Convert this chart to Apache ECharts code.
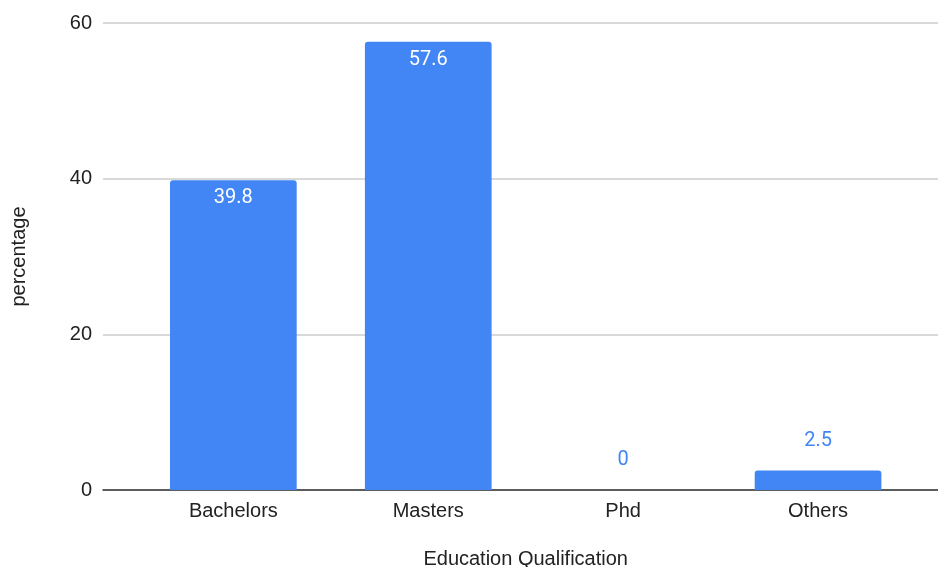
<!DOCTYPE html>
<html>
<head>
<meta charset="utf-8">
<script src="https://cdn.jsdelivr.net/npm/echarts@6/dist/echarts.min.js"></script>
<style>
  html, body { margin: 0; padding: 0; background: #fff; }
  #chart { width: 938px; height: 567px; }
</style>
</head>
<body>
<div id="chart"></div>
<script>
// Share of respondents by education qualification (percent)
const categories = ['Bachelors', 'Masters', 'Phd', 'Others'];
const percentages = [39.8, 57.6, 0, 2.5];
const yTicks = { min: 0, max: 60, interval: 20 };

const BLUE = '#4285F4';
const AXIS_FONT = 'Arial, "Liberation Sans", sans-serif';
const LABEL_FONT = 'Roboto, Arial, sans-serif';

// Tall bars carry their value inside in white; short ones get it above in blue.
const barData = percentages.map(v => ({
  value: v,
  label: v >= 10
    ? { position: 'insideTop', distance: 8, color: '#ffffff' }
    : { position: 'top', distance: 20, color: BLUE }
}));

const chart = echarts.init(document.getElementById('chart'));
chart.setOption({
  animation: false,
  backgroundColor: '#ffffff',
  grid: [
    // frame with gridlines and baseline
    { left: 103, right: 0, top: 23, bottom: 77, outerBoundsMode: 'none', containLabel: false },
    // inset band where the bars sit
    { left: 135.9, right: 22.5, top: 23, bottom: 77, outerBoundsMode: 'none', containLabel: false }
  ],
  xAxis: [
    {
      gridIndex: 0, type: 'value', min: 0, max: 1,
      axisLine: { show: true, onZero: true, lineStyle: { color: '#333333', width: 1.5 } },
      axisTick: { show: false }, axisLabel: { show: false }, splitLine: { show: false }
    },
    {
      gridIndex: 1, type: 'category', data: categories,
      axisLine: { show: false }, axisTick: { show: false },
      axisLabel: { color: '#222222', fontSize: 20, fontFamily: AXIS_FONT, margin: 11 },
      name: 'Education Qualification', nameLocation: 'middle', nameGap: 59,
      nameTextStyle: { color: '#222222', fontSize: 20, fontFamily: AXIS_FONT }
    }
  ],
  yAxis: [
    {
      gridIndex: 0, type: 'value', min: yTicks.min, max: yTicks.max, interval: yTicks.interval,
      axisLine: { show: false }, axisTick: { show: false },
      axisLabel: { color: '#222222', fontSize: 20, fontFamily: AXIS_FONT, margin: 11 },
      splitLine: { lineStyle: { color: '#cccccc', width: 1.5 } },
      name: 'percentage', nameLocation: 'middle', nameRotate: 90, nameGap: 74,
      nameTextStyle: { color: '#222222', fontSize: 20, fontFamily: AXIS_FONT }
    },
    {
      gridIndex: 1, type: 'value', min: yTicks.min, max: yTicks.max, interval: yTicks.interval,
      show: false, splitLine: { show: false }
    }
  ],
  series: [{
    type: 'bar',
    xAxisIndex: 1, yAxisIndex: 1,
    data: barData,
    barWidth: '65%',
    itemStyle: { color: BLUE, borderRadius: [3, 3, 0, 0] },
    label: {
      show: true, fontSize: 20, fontFamily: LABEL_FONT,
      formatter: p => String(p.value)
    }
  }]
});
</script>
</body>
</html>
